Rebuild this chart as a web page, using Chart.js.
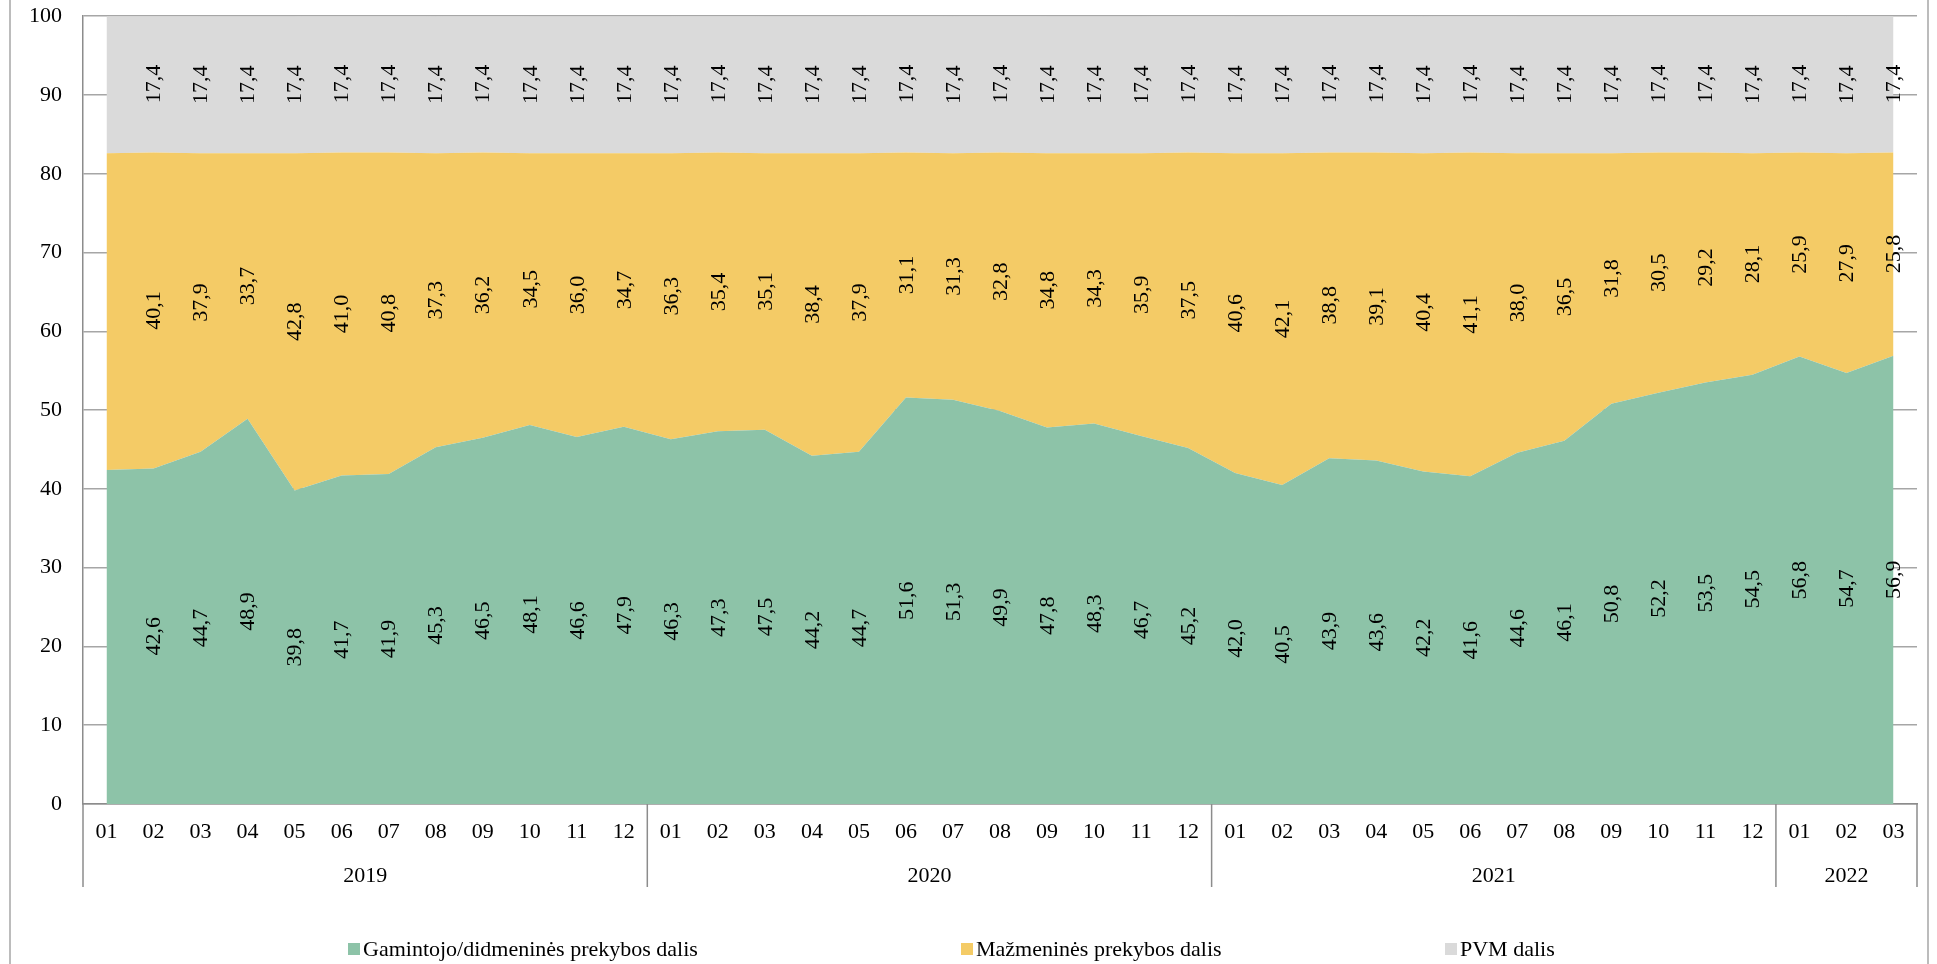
<!DOCTYPE html>
<html>
<head>
<meta charset="utf-8">
<style>
  html, body { margin: 0; padding: 0; background: #fff; overflow: hidden; }
  #wrap { width: 1937px; height: 964px; overflow: hidden; }
  /* canvas is shifted up so the plot top lands at y=14 */
  #chart { display: block; margin-top: -18px; }
</style>
<script src="https://cdn.jsdelivr.net/npm/chart.js@4.4.1/dist/chart.umd.min.js"></script>
</head>
<body>
<div id="wrap"><canvas id="chart" width="1937" height="982"></canvas></div>
<script>
// Months (category axis) and year groups
const months = [
  '01', '02', '03', '04', '05', '06', '07', '08', '09', '10', '11', '12',
  '01', '02', '03', '04', '05', '06', '07', '08', '09', '10', '11', '12',
  '01', '02', '03', '04', '05', '06', '07', '08', '09', '10', '11', '12',
  '01', '02', '03'
];
const years = ['2019', '2020', '2021', '2022'];
const yearLengths = [12, 12, 12, 3];

// Series values (%)
const producerShare = [
  42.4, 42.6, 44.7, 48.9, 39.8, 41.7, 41.9, 45.3, 46.5, 48.1, 46.6, 47.9,
  46.3, 47.3, 47.5, 44.2, 44.7, 51.6, 51.3, 49.9, 47.8, 48.3, 46.7, 45.2,
  42.0, 40.5, 43.9, 43.6, 42.2, 41.6, 44.6, 46.1, 50.8, 52.2, 53.5, 54.5,
  56.8, 54.7, 56.9
];
const retailShare = [
  40.2, 40.1, 37.9, 33.7, 42.8, 41.0, 40.8, 37.3, 36.2, 34.5, 36.0, 34.7,
  36.3, 35.4, 35.1, 38.4, 37.9, 31.1, 31.3, 32.8, 34.8, 34.3, 35.9, 37.5,
  40.6, 42.1, 38.8, 39.1, 40.4, 41.1, 38.0, 36.5, 31.8, 30.5, 29.2, 28.1,
  25.9, 27.9, 25.8
];
const vatShare = [
  17.4, 17.4, 17.4, 17.4, 17.4, 17.4, 17.4, 17.4, 17.4, 17.4, 17.4, 17.4,
  17.4, 17.4, 17.4, 17.4, 17.4, 17.4, 17.4, 17.4, 17.4, 17.4, 17.4, 17.4,
  17.4, 17.4, 17.4, 17.4, 17.4, 17.4, 17.4, 17.4, 17.4, 17.4, 17.4, 17.4,
  17.4, 17.4, 17.4
];
const yTicks = [0, 10, 20, 30, 40, 50, 60, 70, 80, 90, 100];

const FONT = 'Liberation Serif';
const AXIS_GRAY = '#8c8c8c';
const SHIFT = 18; // canvas offset (see CSS)

// Rotated value labels in the middle of each band (first month has none)
const bandLabels = {
  id: 'bandLabels',
  afterDatasetsDraw(chart) {
    const ctx = chart.ctx;
    const x = chart.scales.x;
    const y = chart.scales.y;
    ctx.save();
    ctx.font = '22px "' + FONT + '"';
    ctx.fillStyle = '#000';
    ctx.textAlign = 'center';
    ctx.textBaseline = 'middle';
    for (let i = 1; i < months.length; i++) {
      let base = 0;
      chart.data.datasets.forEach((ds) => {
        const v = ds.data[i];
        const px = x.getPixelForValue(i);
        const py = y.getPixelForValue(base + v / 2);
        ctx.save();
        ctx.translate(px, py);
        ctx.rotate(-Math.PI / 2);
        ctx.fillText(v.toFixed(1).replace('.', ','), 0, 1);
        ctx.restore();
        base += v;
      });
    }
    ctx.restore();
  },
};

// Year groups under the months, separators, legend and outer border
const extras = {
  id: 'extras',
  afterDraw(chart) {
    const ctx = chart.ctx;
    const x = chart.scales.x;
    const area = chart.chartArea;
    ctx.save();

    // year separators and labels
    ctx.strokeStyle = AXIS_GRAY;
    ctx.lineWidth = 1.5;
    ctx.font = '22px "' + FONT + '"';
    ctx.fillStyle = '#000';
    ctx.textAlign = 'center';
    ctx.textBaseline = 'middle';
    let start = 0;
    const edge = (i) => {
      if (i <= 0) return area.left;
      if (i >= months.length) return area.right;
      return (x.getPixelForValue(i - 1) + x.getPixelForValue(i)) / 2;
    };
    years.forEach((yr, k) => {
      const end = start + yearLengths[k];
      const left = edge(start);
      const right = edge(end);
      ctx.beginPath();
      ctx.moveTo(left, area.bottom);
      ctx.lineTo(left, 887 + SHIFT);
      ctx.stroke();
      if (k === years.length - 1) {
        ctx.beginPath();
        ctx.moveTo(right, area.bottom);
        ctx.lineTo(right, 887 + SHIFT);
        ctx.stroke();
      }
      ctx.fillText(yr, (left + right) / 2, 876 + SHIFT);
      start = end;
    });

    // legend
    const legendX = [348, 961, 1445];
    ctx.textAlign = 'left';
    chart.data.datasets.forEach((ds, i) => {
      ctx.fillStyle = ds.backgroundColor;
      ctx.fillRect(legendX[i], 943 + SHIFT, 12, 12);
      ctx.fillStyle = '#000';
      ctx.fillText(ds.label, legendX[i] + 15, 950 + SHIFT);
    });

    // chart border (left and right edges)
    ctx.strokeStyle = '#a6a6a6';
    ctx.lineWidth = 1.5;
    ctx.beginPath();
    ctx.moveTo(10, 0);
    ctx.lineTo(10, 982);
    ctx.moveTo(1928, 0);
    ctx.lineTo(1928, 982);
    ctx.stroke();
    ctx.restore();
  },
};

const ctx = document.getElementById('chart').getContext('2d');
new Chart(ctx, {
  type: 'line',
  data: {
    labels: months,
    datasets: [
      {
        label: 'Gamintojo/didmeninės prekybos dalis',
        data: producerShare,
        backgroundColor: '#8DC3A8',
        fill: 'origin',
      },
      {
        label: 'Mažmeninės prekybos dalis',
        data: retailShare,
        backgroundColor: '#F4CB66',
        fill: '-1',
      },
      {
        label: 'PVM dalis',
        data: vatShare,
        backgroundColor: '#DADADA',
        fill: '-1',
      },
    ],
  },
  options: {
    responsive: false,
    animation: false,
    layout: { padding: { top: 0, right: 20, left: 0, bottom: 0 } },
    elements: {
      point: { radius: 0, hoverRadius: 0 },
      line: { borderWidth: 0, tension: 0 },
    },
    scales: {
      x: {
        offset: true,
        grid: { display: false, drawTicks: false },
        border: { display: true, color: AXIS_GRAY, width: 1.5 },
        ticks: {
          color: '#000',
          font: { family: FONT, size: 22 },
          padding: 15,
          maxRotation: 0,
          autoSkip: false,
        },
        afterFit(scale) {
          scale.height = 160;
        },
      },
      y: {
        stacked: true,
        min: 0,
        max: 100,
        afterBuildTicks(scale) {
          scale.ticks = yTicks.map((v) => ({ value: v }));
        },
        grid: { color: '#a6a6a6', lineWidth: 1.5, drawTicks: false },
        border: { display: true, color: AXIS_GRAY, width: 1.5 },
        ticks: {
          color: '#000',
          font: { family: FONT, size: 22 },
          padding: 21,
        },
        afterFit(scale) {
          scale.width = 83;
        },
      },
    },
    plugins: {
      legend: { display: false },
      tooltip: { enabled: false },
    },
  },
  plugins: [bandLabels, extras],
});
</script>
</body>
</html>
